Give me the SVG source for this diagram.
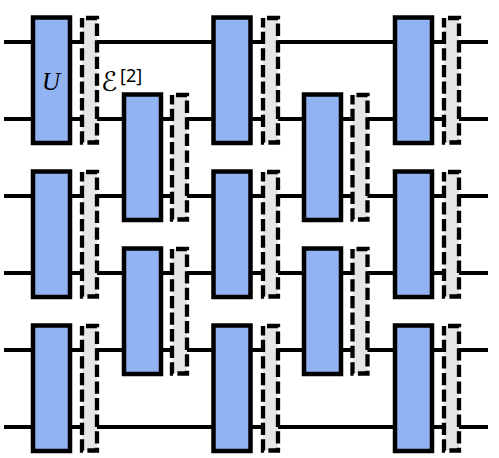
<svg xmlns="http://www.w3.org/2000/svg" xmlns:xlink="http://www.w3.org/1999/xlink" width="499" height="458" viewBox="0 0 499 458">
<style>
.w{stroke:#000;stroke-width:4;fill:none}
.u{fill:#91b3f2;stroke:#000;stroke-width:4.500}
.e{fill:#e6e6e6;stroke:#000;stroke-width:4.300;stroke-dasharray:12.300 4.300;stroke-dashoffset:-4}
text{fill:#000}
</style>
<defs>
<rect id="box" class="u" x="0" y="0" width="37" height="125.500"/>
<rect id="noise" class="e" x="0" y="0.500" width="15" height="124.500"/>
</defs>
<g id="connectors">
<path class="w" d="M4 42H488M4 119H488M4 196H488M4 273H488M4 350H488M4 427H488"/>
</g>
<g id="gate-1-1"><use xlink:href="#box" x="33" y="17.500"/><use xlink:href="#noise" x="82" y="17.500"/></g>
<g id="gate-1-2"><use xlink:href="#box" x="33" y="171.500"/><use xlink:href="#noise" x="82" y="171.500"/></g>
<g id="gate-1-3"><use xlink:href="#box" x="33" y="325.500"/><use xlink:href="#noise" x="82" y="325.500"/></g>
<g id="gate-2-1"><use xlink:href="#box" x="124" y="94.500"/><use xlink:href="#noise" x="172" y="94.500"/></g>
<g id="gate-2-2"><use xlink:href="#box" x="124" y="248.500"/><use xlink:href="#noise" x="172" y="248.500"/></g>
<g id="gate-3-1"><use xlink:href="#box" x="213.500" y="17.500"/><use xlink:href="#noise" x="263" y="17.500"/></g>
<g id="gate-3-2"><use xlink:href="#box" x="213.500" y="171.500"/><use xlink:href="#noise" x="263" y="171.500"/></g>
<g id="gate-3-3"><use xlink:href="#box" x="213.500" y="325.500"/><use xlink:href="#noise" x="263" y="325.500"/></g>
<g id="gate-4-1"><use xlink:href="#box" x="304" y="94.500"/><use xlink:href="#noise" x="352.500" y="94.500"/></g>
<g id="gate-4-2"><use xlink:href="#box" x="304" y="248.500"/><use xlink:href="#noise" x="352.500" y="248.500"/></g>
<g id="gate-5-1"><use xlink:href="#box" x="395" y="17.500"/><use xlink:href="#noise" x="444" y="17.500"/></g>
<g id="gate-5-2"><use xlink:href="#box" x="395" y="171.500"/><use xlink:href="#noise" x="444" y="171.500"/></g>
<g id="gate-5-3"><use xlink:href="#box" x="395" y="325.500"/><use xlink:href="#noise" x="444" y="325.500"/></g>
<g id="label-U"><text x="51" y="90" font-size="25" font-style="italic" text-anchor="middle" font-family="Liberation Serif, serif">U</text></g>
<g id="label-E"><text x="101" y="91" font-size="27" font-family="DejaVu Sans, sans-serif">ℰ</text><text x="120" y="81.500" font-size="18" font-family="Noto Sans, sans-serif">[2]</text></g>
</svg>
